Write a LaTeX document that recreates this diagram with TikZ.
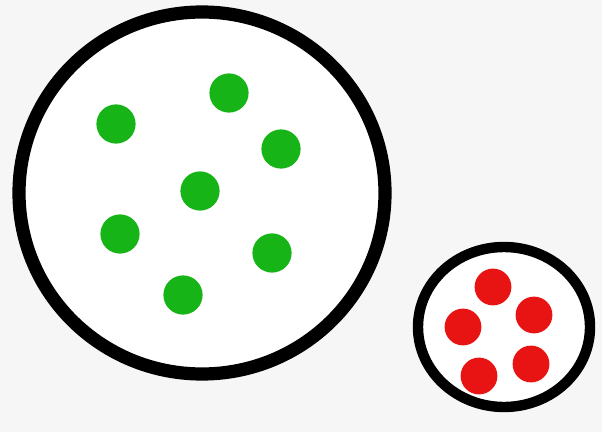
\documentclass[tikz,border=0pt]{standalone}
\usepackage{xcolor}
\usepackage{tikz}
\definecolor{dotgreen}{HTML}{16B416}
\definecolor{dotred}{HTML}{E81414}
\definecolor{paperbg}{HTML}{F6F6F6}

\begin{document}
\begin{tikzpicture}[
        x=0.025cm, y=-0.025cm,
        ring/.style={draw=black, line width=0.33cm, fill=white},
        smallring/.style={draw=black, line width=0.26cm, fill=white},
        greendot/.style={circle, fill=dotgreen, inner sep=0pt, minimum size=0.98cm},
        reddot/.style={circle, fill=dotred, inner sep=0pt, minimum size=0.92cm}
      ]
        \fill[paperbg] (0,0) rectangle (602,432);
        \useasboundingbox (0,0) rectangle (602,432);

        % large group
        \draw[ring] (202,193) ellipse [x radius=183, y radius=181];
        \node[greendot] (g1) at (116,124) {};
        \node[greendot] (g2) at (229,93) {};
        \node[greendot] (g3) at (281,149) {};
        \node[greendot] (g4) at (200,191) {};
        \node[greendot] (g5) at (120,234) {};
        \node[greendot] (g6) at (272,253) {};
        \node[greendot] (g7) at (183,295) {};

        % small group
        \draw[smallring] (504,327) ellipse [x radius=86, y radius=80];
        \node[reddot] (r1) at (493,287) {};
        \node[reddot] (r2) at (534,315) {};
        \node[reddot] (r3) at (463,327) {};
        \node[reddot] (r4) at (531,364) {};
        \node[reddot] (r5) at (479,376) {};
      \end{tikzpicture}
\end{document}
